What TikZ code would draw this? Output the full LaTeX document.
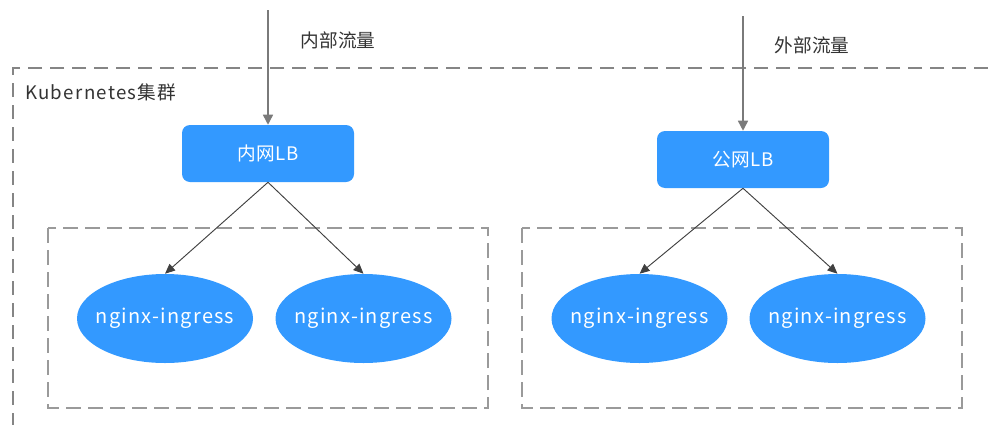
\documentclass[tikz,border=0pt]{standalone}
\usepackage{fontspec}
\setmainfont{Noto Sans CJK SC}
\usetikzlibrary{shapes.geometric,arrows.meta}
\definecolor{lbblue}{HTML}{3399FF}
\definecolor{dashgray}{HTML}{858585}
\definecolor{innergray}{HTML}{9A9A9A}
\definecolor{txtgray}{HTML}{333333}
\definecolor{arrgray}{HTML}{7A7A7A}
\tikzset{
  lbbox/.style={draw=none,fill=lbblue,rounded corners=6pt,minimum width=129pt,minimum height=42.75pt,inner sep=0pt,text=white,font=\fontsize{14}{16}\selectfont\addfontfeatures{LetterSpace=4}},
  podell/.style={ellipse,draw=none,fill=lbblue,minimum width=132pt,minimum height=66.75pt,inner xsep=-12pt,inner ysep=0pt,text=white,font=\fontsize{15}{17}\selectfont\addfontfeatures{LetterSpace=6}},
  outerbox/.style={draw=dashgray,line width=1.4pt,dash pattern=on 10.5pt off 6pt},
  innerbox/.style={draw=innergray,line width=1.2pt,dash pattern=on 11pt off 5.5pt},
  inflow/.style={draw=arrgray,line width=1.1pt,-{Triangle[length=7.5pt,width=7.5pt]}},
  split/.style={draw=black!75,line width=0.7pt,-{Triangle[length=7.5pt,width=6.5pt]}},
  lbl/.style={text=txtgray,font=\fontsize{14}{16}\selectfont,inner sep=0pt}
}
\begin{document}
\begin{tikzpicture}[x=0.75pt,y=-0.75pt]
\useasboundingbox (0,0) rectangle (988,425);
% outer cluster
\draw[outerbox] (988,68) -- (13,68) -- (13,425);
\node[lbl,anchor=west,font=\fontsize{14}{16}\selectfont\addfontfeatures{LetterSpace=7}] (k8s) at (25,92) {Kubernetes集群};
% inner groups
\draw[innerbox] (48,228) rectangle (488,408);
\draw[innerbox] (522,228) rectangle (962,408);
% LBs
\node[lbbox] (lb1) at (268,153.5) {内网LB};
\node[lbbox] (lb2) at (743,159.5) {公网LB};
% pods
\node[podell] (p1) at (165,318.5) {nginx-ingress};
\node[podell] (p2) at (363.5,318.5) {nginx-ingress};
\node[podell] (p3) at (639.5,318.5) {nginx-ingress};
\node[podell] (p4) at (837.5,318.5) {nginx-ingress};
% traffic labels
\node[lbl] (t1) at (338,40) {内部流量};
\node[lbl] (t2) at (812,45) {外部流量};
% inflow arrows
\coordinate (s1) at (268,10);
\coordinate (s2) at (743,16);
\draw[inflow] (s1) -- (lb1.north);
\draw[inflow] (s2) -- (lb2.north);
% splits
\draw[split] (lb1.south) -- (p1.north);
\draw[split] (lb1.south) -- (p2.north);
\draw[split] (lb2.south) -- (p3.north);
\draw[split] (lb2.south) -- (p4.north);
\end{tikzpicture}
\end{document}
